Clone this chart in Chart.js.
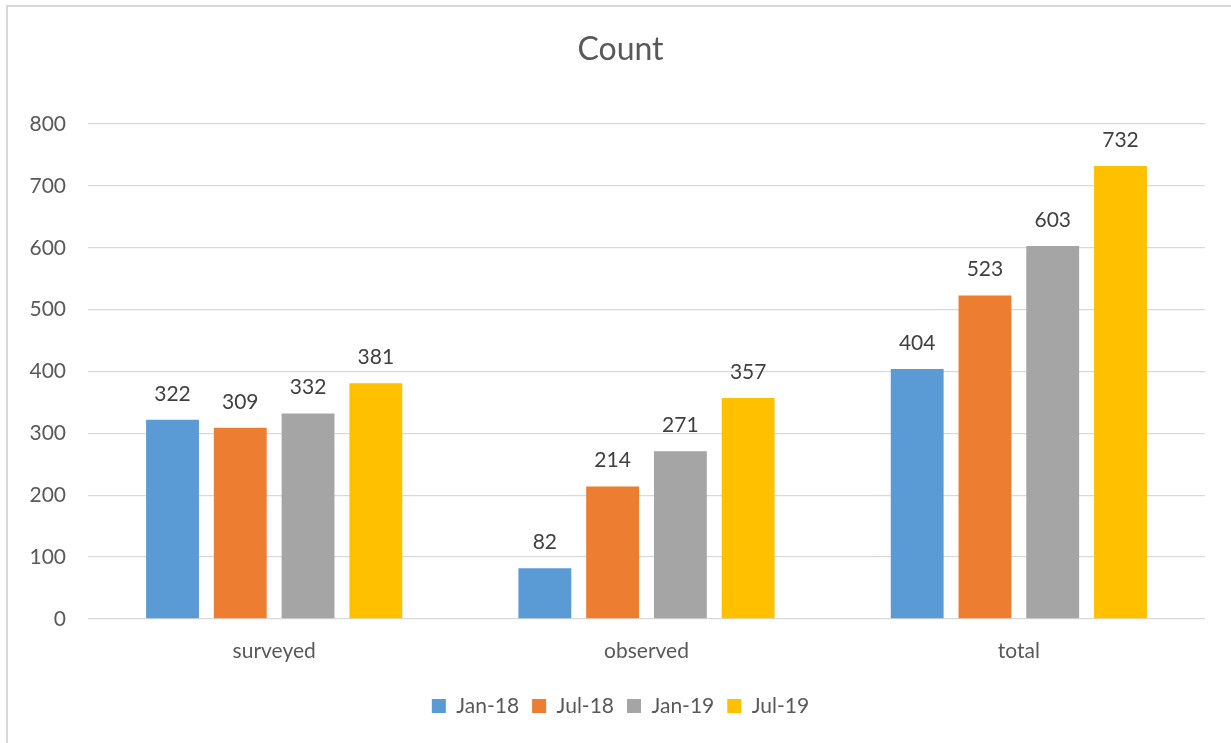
<!DOCTYPE html>
<html>
<head>
<meta charset="utf-8">
<script src="https://cdn.jsdelivr.net/npm/chart.js@4/dist/chart.umd.min.js"></script>
<style>
  html, body { margin: 0; padding: 0; background: #fff; overflow: hidden; }
  #frame { position: absolute; left: 6px; top: 5px; width: 1260px; height: 780px; border: 2px solid #d9d9d9; box-sizing: border-box; }
  #wrap { position: absolute; left: 0; top: 0; width: 1231px; height: 743px; }
</style>
</head>
<body>
<div id="frame"></div>
<div id="wrap"><canvas id="c"></canvas></div>
<script>
const categories = ["surveyed", "observed", "total"];
const seriesNames = ["Jan-18", "Jul-18", "Jan-19", "Jul-19"];
const jan18 = [322, 82, 404];
const jul18 = [309, 214, 523];
const jan19 = [332, 271, 603];
const jul19 = [381, 357, 732];
const yTicks = [0, 100, 200, 300, 400, 500, 600, 700, 800];
const colors = ["#5B9BD5", "#ED7D31", "#A5A5A5", "#FFC000"];

const FONT = "Lato, 'Noto Sans', sans-serif";

const dataLabels = {
  id: "dataLabels",
  afterDatasetsDraw(chart) {
    const ctx = chart.ctx;
    ctx.save();
    ctx.font = "21px " + FONT;
    ctx.fillStyle = "#404040";
    ctx.textAlign = "center";
    ctx.textBaseline = "middle";
    chart.data.datasets.forEach((ds, i) => {
      const meta = chart.getDatasetMeta(i);
      meta.data.forEach((bar, j) => {
        ctx.fillText(String(ds.data[j]), bar.x, bar.y - 26);
      });
    });
    ctx.restore();
  }
};

const allSeries = [jan18, jul18, jan19, jul19];

new Chart(document.getElementById("c"), {
  type: "bar",
  data: {
    labels: categories,
    datasets: allSeries.map((d, i) => ({
      label: seriesNames[i],
      data: d,
      backgroundColor: colors[i],
      borderWidth: 0,
      categoryPercentage: 0.728,
      barPercentage: 0.78
    }))
  },
  options: {
    responsive: true,
    maintainAspectRatio: false,
    devicePixelRatio: 1,
    animation: false,
    layout: { padding: { left: 10, right: 0, top: 0, bottom: 16.5 } },
    plugins: {
      title: {
        display: true,
        text: "Count",
        color: "#595959",
        font: { family: FONT, size: 32, weight: "normal" },
        padding: { top: 30.8, bottom: 54.8 }
      },
      legend: {
        position: "bottom",
        labels: {
          color: "#595959",
          font: { family: FONT, size: 21 },
          boxWidth: 14,
          boxHeight: 14,
          padding: 13
        }
      },
      tooltip: { enabled: false }
    },
    scales: {
      x: {
        grid: { display: false },
        border: { display: false },
        ticks: { color: "#595959", font: { family: FONT, size: 21 }, padding: 12 },
        afterFit(scale) { scale.height = 63.5; }
      },
      y: {
        min: 0,
        max: 800,
        afterBuildTicks(scale) { scale.ticks = yTicks.map(v => ({ value: v })); },
        grid: { color: "#d9d9d9", lineWidth: 1.3, drawTicks: false },
        border: { display: false },
        ticks: { color: "#595959", font: { family: FONT, size: 21 }, padding: 22 },
        afterFit(scale) { scale.width = 78; }
      },
      yRight: {
        position: "right",
        min: 0,
        max: 800,
        grid: { display: false, drawTicks: false },
        border: { display: false },
        ticks: { display: false },
        afterFit(scale) { scale.width = 26; }
      }
    }
  },
  plugins: [dataLabels]
});
</script>
</body>
</html>
